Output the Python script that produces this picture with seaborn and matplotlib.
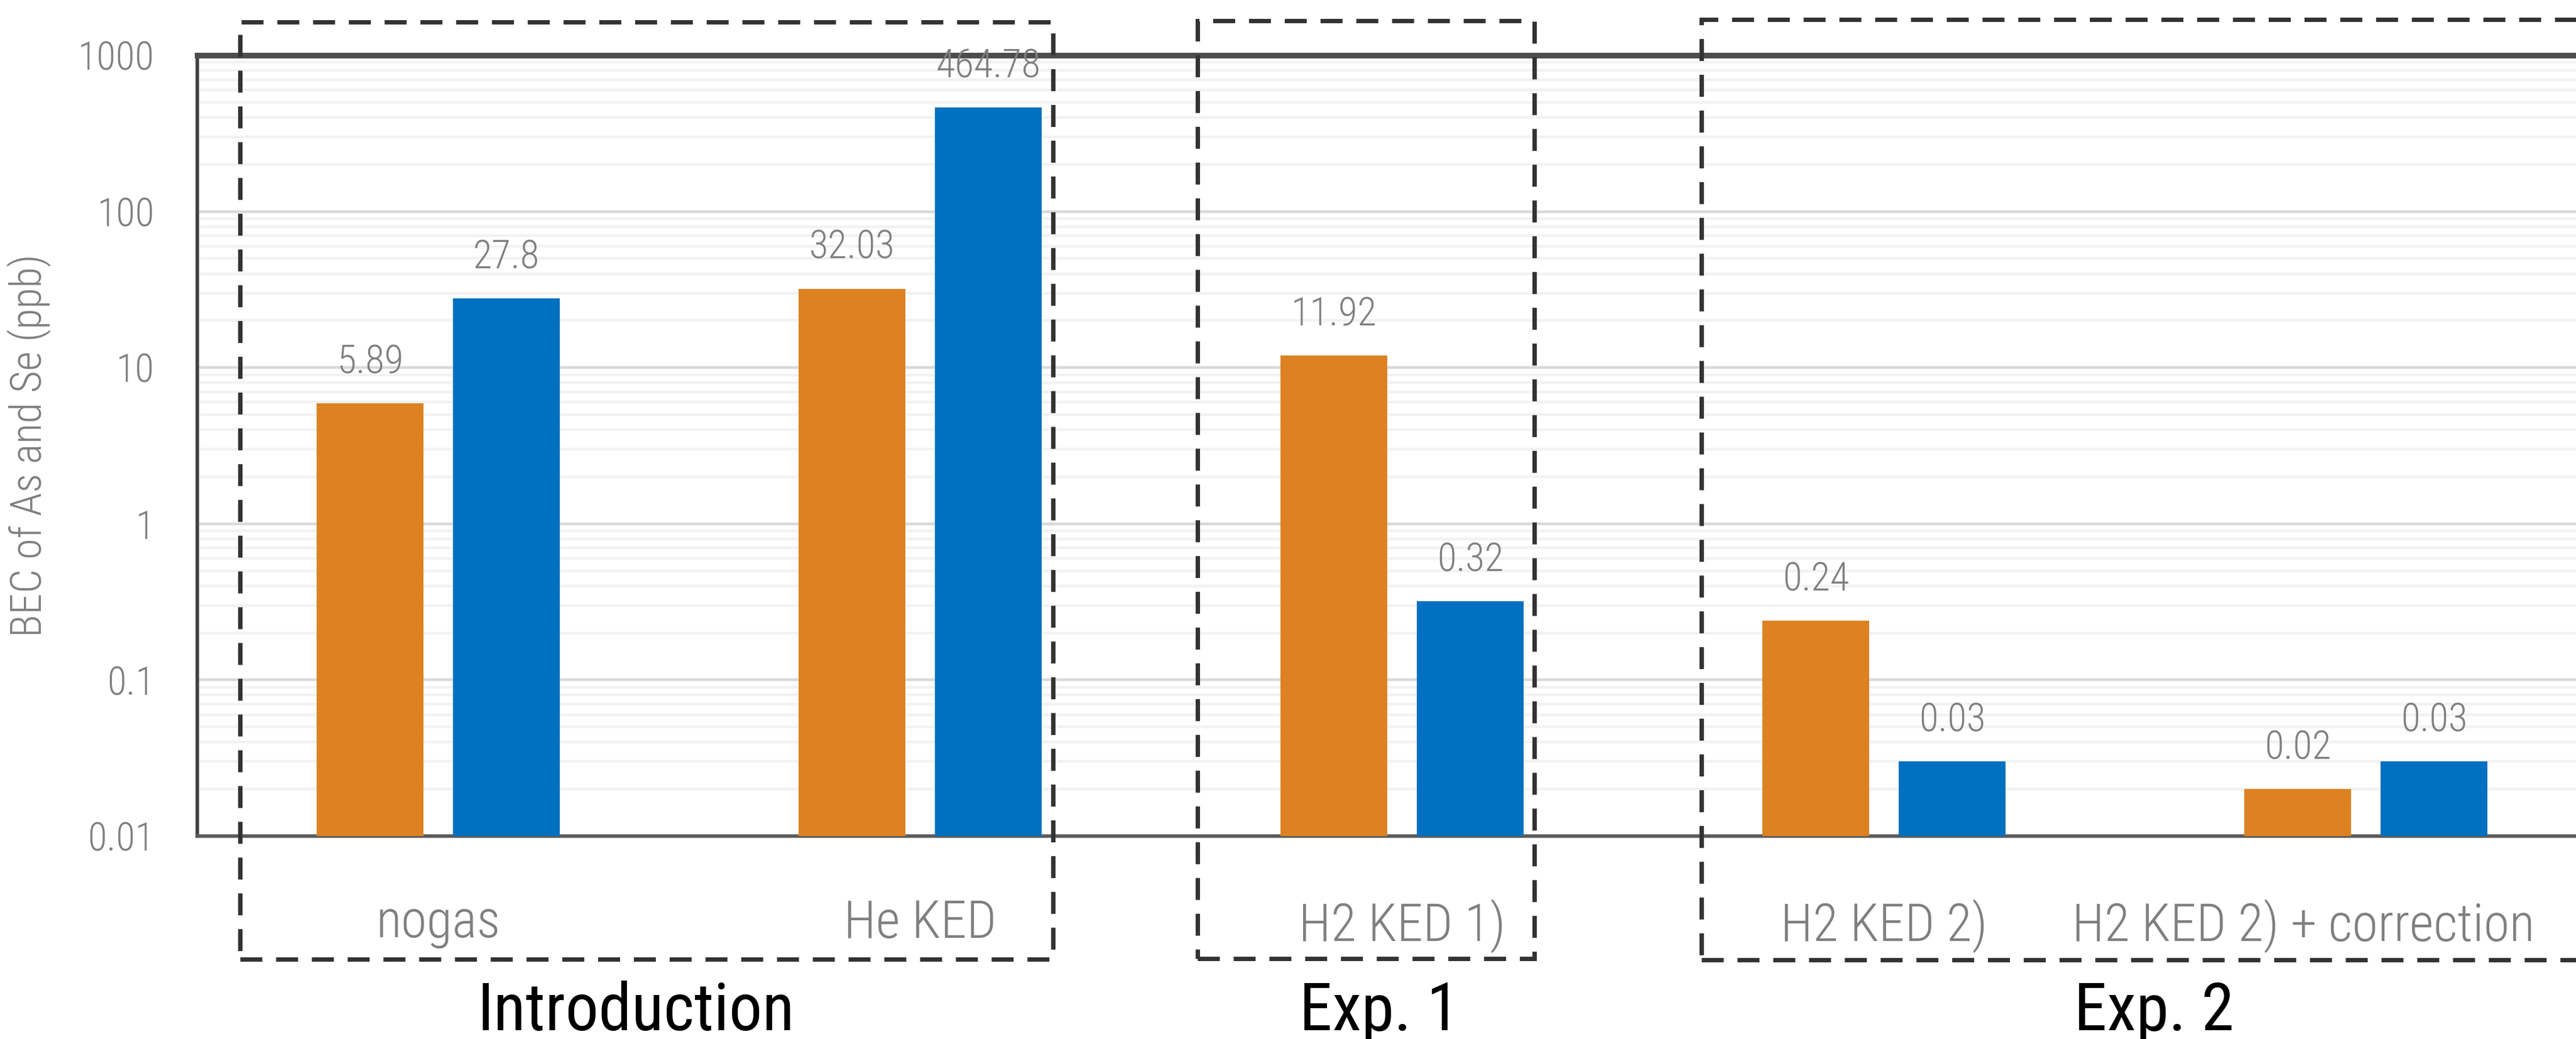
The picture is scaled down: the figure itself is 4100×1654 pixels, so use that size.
import matplotlib
matplotlib.use("Agg")
import matplotlib.pyplot as plt
import matplotlib.font_manager as fm
from matplotlib.patches import Rectangle
from matplotlib.ticker import LogLocator, FixedLocator, FixedFormatter, NullFormatter
import seaborn as sns
import pandas as pd

# ---------------- data ----------------
categories = ["nogas", "He KED", "H2 KED 1)", "H2 KED 2)", "H2 KED 2) + correction"]
elements = ["As", "Se"]
as_values = [5.89, 32.03, 11.92, 0.24, 0.02]
se_values = [27.8, 464.78, 0.32, 0.03, 0.03]
ytick_values = [0.01, 0.1, 1, 10, 100, 1000]
ytick_labels = ["0.01", "0.1", "1", "10", "100", "1000"]
y_label = "BEC of As and Se (ppb)"
group_names = ["Introduction", "Exp. 1", "Exp. 2"]
palette = {"As": "#DC8222", "Se": "#0070C0"}

df = pd.DataFrame({
    "category": categories * 2,
    "element": [elements[0]] * len(categories) + [elements[1]] * len(categories),
    "value": as_values + se_values,
})

# ---------------- fonts ----------------
sns.set_theme(style="white")
names = {f.name for f in fm.fontManager.ttflist}
narrow = None
for cand in ["Roboto Condensed", "Liberation Sans Narrow", "Open Sans Condensed"]:
    if cand in names:
        narrow = cand
        break
if narrow is None:
    narrow = "DejaVu Sans"
plt.rcParams["font.family"] = [narrow, "DejaVu Sans"]
plt.rcParams["font.stretch"] = "condensed"

GRAY = "#7f7f7f"
LIGHT = "light"
YMIN, YMAX = 0.01, 1000

fig = plt.figure(figsize=(41, 16.54), dpi=100)
W, H = 4100, 1654
ax_left, ax_right = 314 / W, 4149 / W
ax_top, ax_bottom = 1 - 88 / H, 1 - 1331 / H
ax = fig.add_axes([ax_left, ax_bottom, ax_right - ax_left, ax_top - ax_bottom])
ax.set_yscale("log")

sns.barplot(data=df, x="category", y="value", hue="element", order=categories,
            hue_order=elements, palette=palette, width=0.566, gap=0.215,
            legend=False, ax=ax, saturation=1, edgecolor="none", zorder=3)

# bars on a log axis: start them at the bottom of the axis
for cont in ax.containers:
    for p in cont.patches:
        top = p.get_y() + p.get_height()
        p.set_y(YMIN)
        p.set_height(top - YMIN)

ax.set_xlim(-0.5, 4.5)
ax.set_ylim(YMIN, YMAX)

# gridlines
ax.yaxis.set_major_locator(FixedLocator(ytick_values))
ax.yaxis.set_major_formatter(FixedFormatter(ytick_labels))
ax.yaxis.set_minor_locator(LogLocator(base=10, subs=range(2, 10), numticks=20))
ax.yaxis.set_minor_formatter(NullFormatter())
ax.grid(False)
ax.grid(True, axis="y", which="major", color="#d9d9d9", lw=3.2, zorder=0)
ax.grid(True, axis="y", which="minor", color="#f2f2f2", lw=3.2, zorder=0)
ax.set_axisbelow(True)

# category tick positions (last label pulled left so it fits inside the figure)
ax.set_xticks([0, 1, 2, 3, 3.87])
ax.set_xticklabels(categories, fontweight=LIGHT)
ax.tick_params(axis="y", which="both", length=0, pad=49, labelsize=45, labelcolor=GRAY)
ax.tick_params(axis="x", length=0, pad=72, labelsize=60, labelcolor=GRAY)
for t in ax.get_yticklabels():
    t.set_fontweight(LIGHT)
ax.set_xlabel("")
ax.set_ylabel("")

ax.spines["right"].set_visible(False)
ax.spines["top"].set_visible(True)
ax.spines["top"].set_linewidth(6.5)
ax.spines["top"].set_color("#4d4d4d")
ax.spines["left"].set_linewidth(4)
ax.spines["left"].set_color("#404040")
ax.spines["bottom"].set_linewidth(4)
ax.spines["bottom"].set_color("#5a5a5a")

# value labels
for cont, vals in zip(ax.containers, [as_values, se_values]):
    ax.bar_label(cont, labels=[f"{v:g}" for v in vals], padding=25,
                 fontsize=45, color=GRAY, fontweight=LIGHT)

# y label
fig.text(18 / 1568, (ax_top + ax_bottom) / 2, y_label, rotation=90,
         ha="center", va="center", fontsize=49, color=GRAY, fontweight=LIGHT)

# dashed group boxes (figure coordinates)
lw = 5
dash = (0, (25.2 / lw, 15.8 / lw))
boxes = [(382, 1676, 35, 1527), (1906, 2442, 33, 1526), (2708, 4160, 31, 1528)]
for x0, x1, y0, y1 in boxes:
    r = Rectangle((x0 / W, 1 - y1 / H), (x1 - x0) / W, (y1 - y0) / H,
                  transform=fig.transFigure, fill=False, edgecolor="#333333",
                  lw=lw, linestyle=dash, clip_on=False)
    fig.add_artist(r)

# group labels
group_x = [1012, 2195, 3428]
for name, gx in zip(group_names, group_x):
    fig.text(gx / W, 1 - 1640 / H, name, ha="center", va="baseline",
             fontsize=76, color="black")

fig.savefig("out.png", dpi=100)
